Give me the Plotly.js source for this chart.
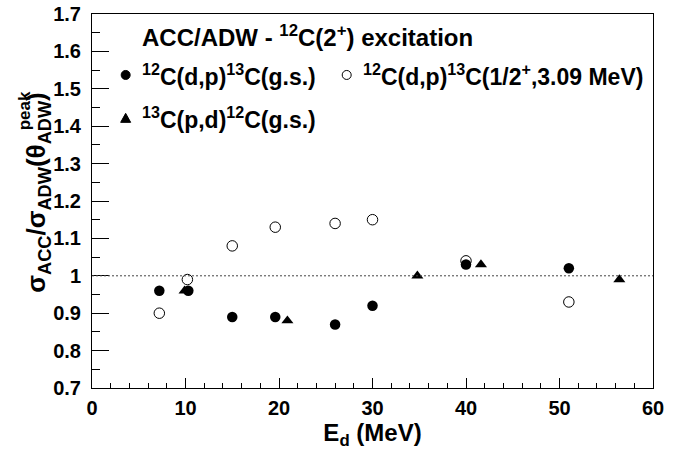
<!DOCTYPE html>
<html>
<head>
<meta charset="utf-8">
<script src="https://cdn.plot.ly/plotly-3.0.1.min.js"></script>
<style>html,body{margin:0;padding:0;background:#fff;}#chart{width:686px;height:459px;}</style>
</head>
<body>
<div id="chart"></div>
<script>
// Data
const gsEnergy = [7.2, 10.3, 15.0, 19.6, 26.0, 30.0, 40.0, 51.0];
const gsRatio  = [0.96, 0.96, 0.89, 0.89, 0.87, 0.92, 1.03, 1.02];

const exEnergy = [7.2, 10.2, 15.0, 19.6, 26.0, 30.0, 40.0, 51.0];
const exRatio  = [0.90, 0.99, 1.08, 1.13, 1.14, 1.15, 1.04, 0.93];

const pdEnergy = [9.9, 20.9, 34.8, 41.6, 56.4];
const pdRatio  = [0.96, 0.88, 1.00, 1.03, 0.99];

const yTickVals = [0.7, 0.8, 0.9, 1.0, 1.1, 1.2, 1.3, 1.4, 1.5, 1.6, 1.7];
const yTickText = ["0.7", "0.8", "0.9", "1", "1.1", "1.2", "1.3", "1.4", "1.5", "1.6", "1.7"];
const xTickVals = [0, 10, 20, 30, 40, 50, 60];
const xTickText = ["0", "10", "20", "30", "40", "50", "60"];

const seriesNames = [
  "<sup>12</sup>C(d,p)<sup>13</sup>C(g.s.)",
  "<sup>12</sup>C(d,p)<sup>13</sup>C(1/2<sup>+</sup>,3.09 MeV)",
  "<sup>13</sup>C(p,d)<sup>12</sup>C(g.s.)"
];
const titleText = "ACC/ADW - <sup>12</sup>C(2<sup>+</sup>) excitation";

const FONT = "Liberation Sans, Arial, Helvetica, sans-serif";
const bold = (size) => ({family: FONT, size: size, color: "#000", weight: 700});

const traces = [
  {x: gsEnergy, y: gsRatio, type: "scatter", mode: "markers", name: seriesNames[0],
   marker: {symbol: "circle", size: 10.5, color: "#000"}},
  {x: exEnergy, y: exRatio, type: "scatter", mode: "markers", name: seriesNames[1],
   marker: {symbol: "circle-open", size: 10.5, color: "#000", line: {width: 1, color: "#000"}}},
  {x: pdEnergy, y: pdRatio, type: "scatter", mode: "markers", name: seriesNames[2],
   marker: {symbol: "triangle-up", size: 10.5, color: "#000"}}
];

const legendX = 0.060, legendX2 = 0.454;
const textX = 0.086, textX2 = 0.479;
const row1 = 0.837, row2 = 0.721;

const layout = {
  width: 686, height: 459,
  margin: {l: 92, r: 33, t: 14, b: 71},
  paper_bgcolor: "#fff", plot_bgcolor: "#fff",
  showlegend: false,
  font: bold(20),
  xaxis: {
    range: [0, 60], tickmode: "array", tickvals: xTickVals, ticktext: xTickText,
    ticks: "inside", ticklen: 10, tickwidth: 1, tickcolor: "#000",
    minor: {tick0: 0, dtick: 2, ticks: "inside", ticklen: 5, tickwidth: 1, tickcolor: "#000"},
    showline: true, mirror: true, linecolor: "#000", linewidth: 1,
    showgrid: false, zeroline: false, tickfont: bold(20), ticklabelstandoff: 2,
    title: {text: "E<sub>d</sub> (MeV)", font: bold(24), standoff: 6}
  },
  yaxis: {
    range: [0.7, 1.7], tickmode: "array", tickvals: yTickVals, ticktext: yTickText,
    ticks: "inside", ticklen: 17, tickwidth: 1, tickcolor: "#000",
    minor: {tick0: 0.7, dtick: 0.05, ticks: "inside", ticklen: 8, tickwidth: 1, tickcolor: "#000"},
    showline: true, mirror: true, linecolor: "#000", linewidth: 1,
    showgrid: false, zeroline: false, tickfont: bold(20), ticklabelstandoff: 6
  },
  shapes: [
    {type: "line", xref: "paper", x0: 0, x1: 1, yref: "y", y0: 1.0, y1: 1.0,
     line: {color: "#444", width: 1, dash: "2px,2px"}},
    {type: "circle", xref: "paper", yref: "paper", xsizemode: "pixel", ysizemode: "pixel",
     xanchor: legendX, yanchor: row1, x0: -4.5, x1: 4.5, y0: -4.5, y1: 4.5,
     fillcolor: "#000", line: {color: "#000", width: 1}},
    {type: "circle", xref: "paper", yref: "paper", xsizemode: "pixel", ysizemode: "pixel",
     xanchor: legendX2, yanchor: row1, x0: -4.5, x1: 4.5, y0: -4.5, y1: 4.5,
     fillcolor: "rgba(0,0,0,0)", line: {color: "#000", width: 1}},
    {type: "path", xref: "paper", yref: "paper", xsizemode: "pixel", ysizemode: "pixel",
     xanchor: legendX, yanchor: row2, path: "M -5 -4 L 5 -4 L 0 5 Z",
     fillcolor: "#000", line: {color: "#000", width: 1}}
  ],
  annotations: [
    {xref: "paper", yref: "paper", x: textX, y: 0.9425, xanchor: "left", yanchor: "middle",
     text: titleText, showarrow: false, font: bold(24)},
    {xref: "paper", yref: "paper", x: textX, y: row1, xanchor: "left", yanchor: "middle",
     text: seriesNames[0], showarrow: false, font: bold(23)},
    {xref: "paper", yref: "paper", x: textX2, y: row1, xanchor: "left", yanchor: "middle",
     text: seriesNames[1], showarrow: false, font: bold(23)},
    {xref: "paper", yref: "paper", x: textX, y: row2, xanchor: "left", yanchor: "middle",
     text: seriesNames[2], showarrow: false, font: bold(23)},
    {xref: "paper", yref: "paper", x: -0.097, y: 0.521, xanchor: "center", yanchor: "middle",
     textangle: -90, showarrow: false, font: bold(26),
     text: "σ<sub>ACC</sub>/σ<sub>ADW</sub>(θ<sub>ADW</sub>)"},
    {xref: "paper", yref: "paper", x: -0.121, y: 0.740, xanchor: "center", yanchor: "middle",
     textangle: -90, showarrow: false, font: bold(17), text: "peak"}
  ]
};

Plotly.newPlot("chart", traces, layout, {displayModeBar: false, staticPlot: true});
</script>
</body>
</html>
